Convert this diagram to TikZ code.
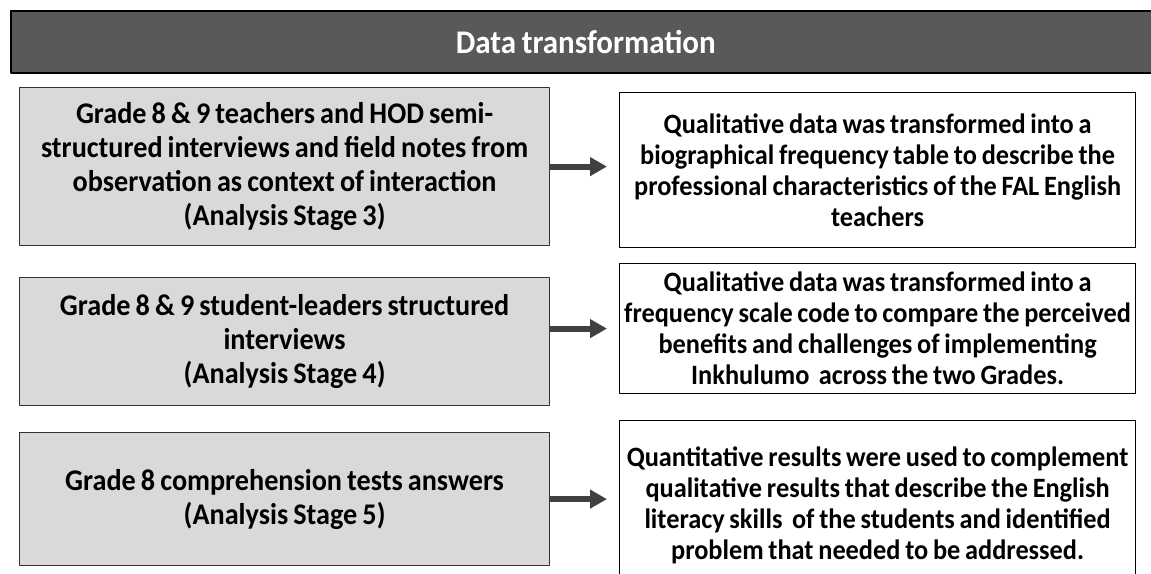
\documentclass[tikz,border=0pt]{standalone}
\usepackage{fontspec}
\setmainfont{Carlito}[FakeStretch=0.94, WordSpace=0.8]
\usetikzlibrary{arrows.meta}
\definecolor{headgray}{HTML}{595959}
\definecolor{boxgray}{HTML}{D9D9D9}
\definecolor{arrowgray}{HTML}{404040}
\begin{document}
\begin{tikzpicture}[x=1pt, y=-1pt, line join=round,
        head/.style={draw=black, line width=1.6pt, fill=headgray, text=white, anchor=north west, inner sep=0pt,
            minimum width=1150pt, minimum height=62pt, font=\bfseries\fontsize{33}{36}\selectfont},
        source/.style={draw=black!80, line width=1.2pt, fill=boxgray, anchor=north west, inner sep=0pt,
            minimum width=530pt, align=center, font=\bfseries\fontsize{30}{34}\selectfont},
        result/.style={draw=black, line width=1.2pt, fill=white, anchor=north west, inner sep=0pt,
            minimum width=516pt, align=center, font=\bfseries\fontsize{28}{31}\selectfont},
        flow/.style={draw=arrowgray, line width=6pt, -{Triangle[width=18pt,length=17pt]}, shorten >=12pt}]
    \useasboundingbox (0,0) rectangle (1151,573);
    \node[head] (title) at (10,10) {Data transformation};
    % sources on the left
    \node[source, minimum height=158pt] (l1) at (19,87) {Grade 8 \& 9 teachers and HOD semi-\\structured interviews and field notes from\\observation as context of interaction\\(Analysis Stage 3)};
    \node[source, minimum height=128pt] (l2) at (19,277) {Grade 8 \& 9 student-leaders structured\\interviews\\(Analysis Stage 4)};
    \node[source, minimum height=133pt] (l3) at (19,432) {Grade 8 comprehension tests answers\\(Analysis Stage 5)};
    % transformed data on the right
    \node[result, minimum height=155pt] (r1) at (619,92) {Qualitative data was transformed into a\\biographical frequency table to describe the\\professional characteristics of the FAL English\\teachers};
    \node[result, minimum height=130pt] (r2) at (619,263) {Qualitative data was transformed into a\\frequency scale code to compare the perceived\\benefits and challenges of implementing\\Inkhulumo\ \ across the two Grades.};
    \node[result, minimum height=170pt] (r3) at (619,420) {Quantitative results were used to complement\\qualitative results that describe the English\\literacy skills\ \ of the students and identified\\problem that needed to be addressed.};
    \draw[flow] (l1.east) -- (l1.east -| r1.west);
    \draw[flow] (l2.east |- r2.west) -- (r2.west);
    \draw[flow] (l3.east) -- (l3.east -| r3.west);
\end{tikzpicture}
\end{document}
